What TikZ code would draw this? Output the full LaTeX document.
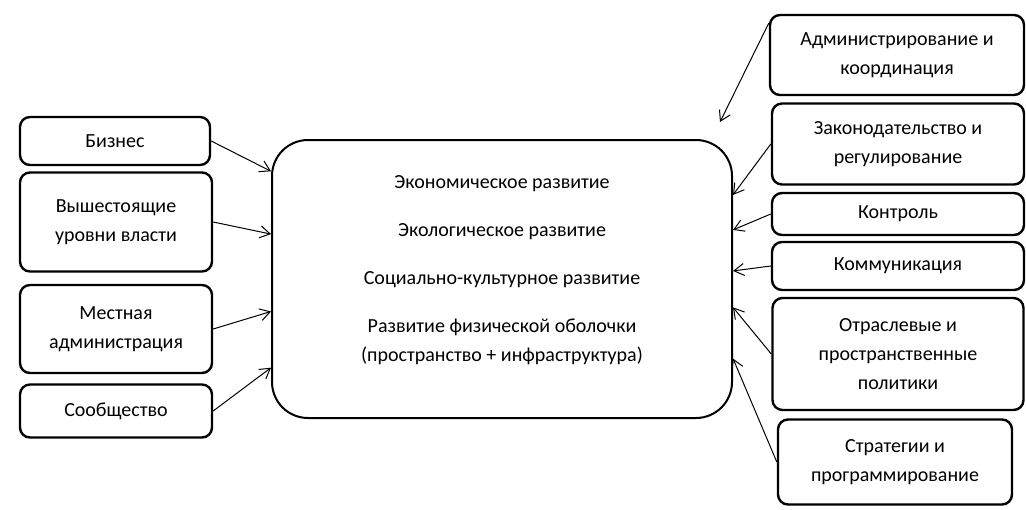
\documentclass[tikz,border=0pt]{standalone}
\usepackage{fontspec}
\setmainfont{Carlito}
\usepackage{tikz}
\usetikzlibrary{arrows.meta}

\begin{document}
\begin{tikzpicture}[x=0.5pt, y=-0.5pt,
  box/.style={draw=black, line width=1.2pt, rounded corners=5pt, align=center,
    inner sep=0pt, font=\fontsize{10}{14.5}\selectfont},
  bigbox/.style={draw=black, line width=1pt, rounded corners=18pt, inner sep=0pt},
  arr/.style={-{Straight Barb[length=5pt, width=6pt]}, line width=0.5pt}]

\useasboundingbox (0,0) rectangle (1026,509);


% Left column
\path 
(115,141) node [box, minimum width=95pt, minimum height=24pt] (biz) {Бизнес};

\path 
(116,222) node [box, minimum width=96pt, minimum height=49.5pt] (vysh) {Вышестоящие\\уровни власти};

\path 
(116,329) node [box, minimum width=96pt, minimum height=44pt] (mest) {Местная\\администрация};

\path 
(116,411) node [box, minimum width=96pt, minimum height=26.5pt] (soob) {Сообщество};



% Development box
\path 
(502,279) node [bigbox, minimum width=230pt, minimum height=139pt] (razv) {};

\path 
(502,270) node [align=center, font=\fontsize{10}{14.5}\selectfont] (razvtext)
{Экономическое развитие\\[9.5pt]
Экологическое развитие\\[9.5pt]
Социально-культурное развитие\\[9.5pt]
Развитие физической оболочки\\
(пространство + инфраструктура)};



% Right column
\path 
(897,55) node [box, minimum width=127pt, minimum height=40pt] (admin) {Администрирование и\\координация};

\path 
(898,144) node [box, minimum width=126pt, minimum height=40.5pt] (zakon) {Законодательство и\\регулирование};

\path 
(898,214) node [box, minimum width=126pt, minimum height=21pt] (kontr) {Контроль};

\path 
(898,266) node [box, minimum width=126pt, minimum height=24pt] (komm) {Коммуникация};

\path 
(898,354) node [box, minimum width=125.5pt, minimum height=56pt] (otr) {Отраслевые и\\пространственные\\политики};

\path 
(895,462) node [box, minimum width=117pt, minimum height=42.5pt] (strat) {Стратегии и\\программирование};

\coordinate (adminend) at (720,122);



% Arrows in
\draw[arr] (biz.east) -- (razv.155.7);
\draw[arr] (vysh.east) -- (razv.169.9);
\draw[arr] (mest.east) -- (razv.188.2);
\draw[arr] (soob.east) -- (razv.201.2);

\draw[arr] (admin.166.7) -- (adminend);
\draw[arr] (zakon.west) -- (razv.20.7);
\draw[arr] (kontr.west) -- (razv.12.7);
\draw[arr] (komm.west) -- (razv.2.2);
\draw[arr] (otr.west) -- (razv.-7.7);
\draw[arr] (strat.west) -- (razv.-19);


\end{tikzpicture}
\end{document}
